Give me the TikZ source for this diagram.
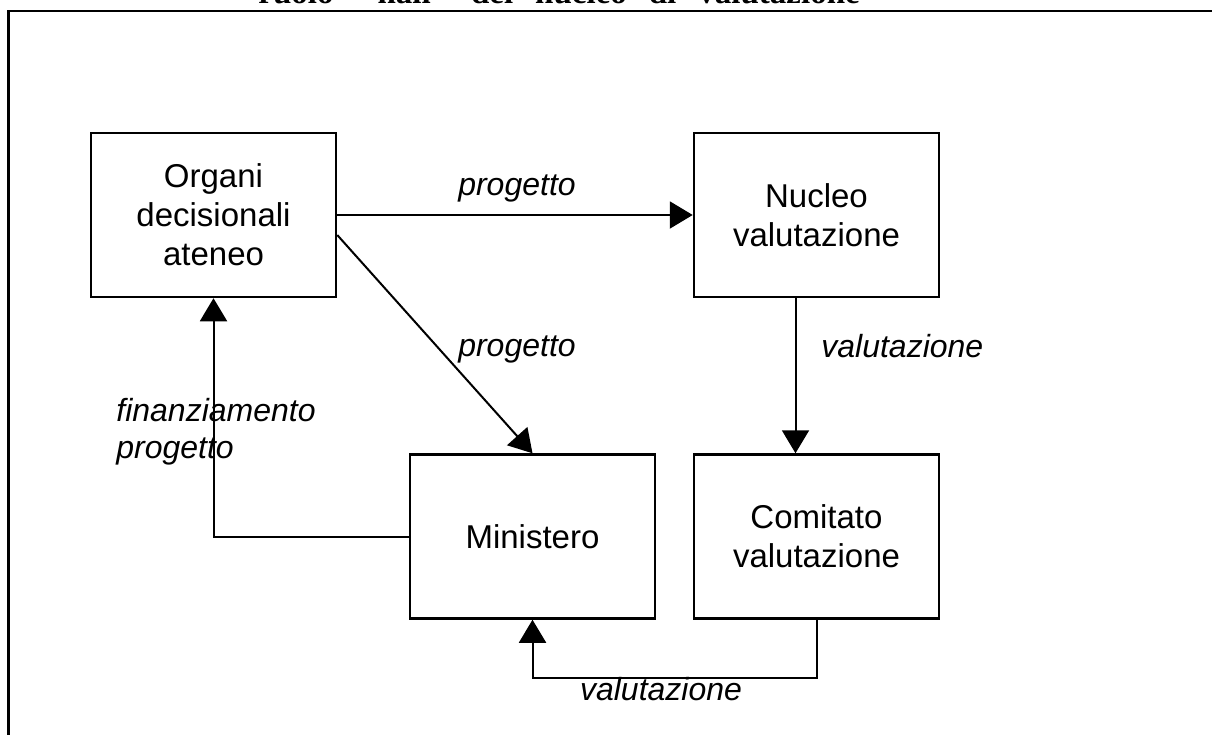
\documentclass[tikz,border=0pt]{standalone}
\usepackage{fontspec}
\setmainfont{Liberation Sans}
\newfontfamily\ttlfamily{Liberation Serif}
\usetikzlibrary{arrows.meta,calc}

\newcommand\boxfont{\fontsize{33}{39}\selectfont}
\newcommand\lblfont{\fontsize{32}{37}\selectfont\itshape}
\newcommand\ttlfont{\fontsize{33}{36}\selectfont\ttlfamily\bfseries\spaceskip=22pt\relax}

\tikzset{
	box/.style={draw, line width=2.5, minimum width=245, minimum height=164, inner sep=0, align=center, font=\boxfont},
	flow/.style={line width=2, -{Triangle[length=23pt,width=27pt]}},
	lbl/.style={font=\lblfont, inner sep=0}}
\tikzset{every picture/.style={line width=0.75pt}}

\begin{document}
\begin{tikzpicture}[x=1pt,y=1pt,yscale=-1,xscale=1]
	\useasboundingbox (0,0) rectangle (1212,734);
	\clip (0,0) rectangle (1212,734);

	% Title (cut off at top)
	\node[anchor=base west, font=\ttlfont, inner sep=0] (title) at (258,3.5) {ruolo ``nali'' del nucleo di valutazione};
	%Shape: Frame
	\draw [line width=2.5] (8.5,760) -- (8.5,11) -- (1240,11) ;

	%Shape: Rectangles
	\node[box] (org) at (213.5,215) {Organi\\decisionali\\ateneo};
	\node[box] (nuc) at (816.5,215) {Nucleo\\valutazione};
	\node[box] (min) at (532.5,536.5) {Ministero};
	\node[box] (com) at (816.5,536.5) {Comitato\\valutazione};

	%Straight Lines
	\draw [flow] (org.east) -- (nuc.west) ;
	\draw [flow] ($(org.east)+(0,20)$) -- (min.north) ;
	\draw [flow] ($(nuc.south)+(-21,0)$) -- ($(com.north)+(-21,0)$) ;
	\draw [flow] (min.west) -| (org.south) ;
	\draw [flow] (com.south) -- ++(0,58) -| (min.south) ;

	% Text Node
	\node[lbl, anchor=base] (p1) at (517,195) {progetto};
	% Text Node
	\node[lbl, anchor=base] (p2) at (517,356) {progetto};
	% Text Node
	\node[lbl, anchor=base west] (v1) at (821,357) {valutazione};
	% Text Node
	\node[lbl, anchor=north west, align=left] (fin) at (116,398) {finanziamento\\progetto};
	% Text Node
	\node[lbl, anchor=base] (v2) at (661,700) {valutazione};
\end{tikzpicture}
\end{document}
